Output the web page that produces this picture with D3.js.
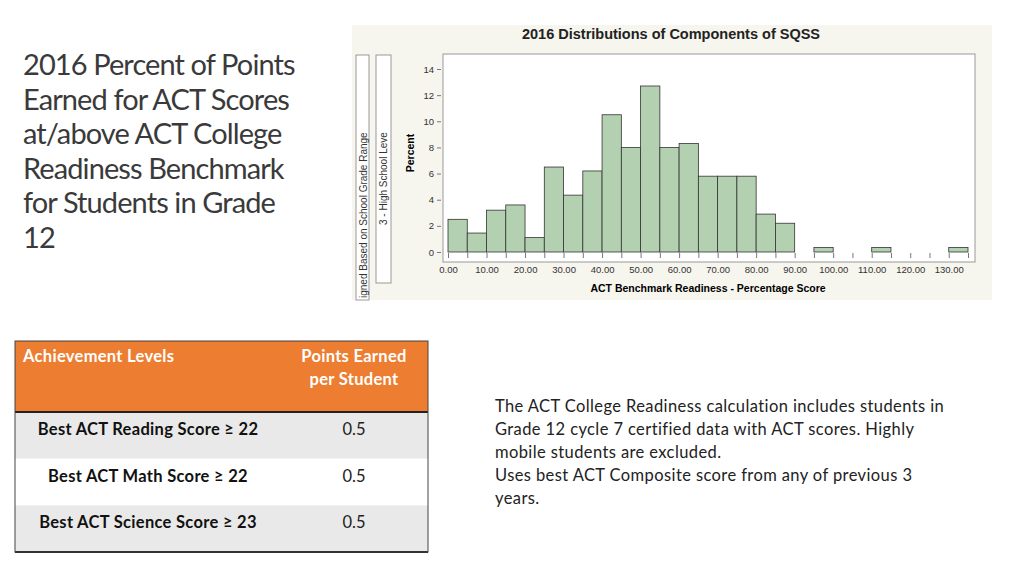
<!DOCTYPE html>
<html><head><meta charset="utf-8">
<script src="https://cdn.jsdelivr.net/npm/d3@7"></script>
<style>body{margin:0;background:#fff;font-family:Lato,"Open Sans",sans-serif}</style>
</head><body><svg id="c" width="1024" height="576"></svg>
<script>
const binStarts=[0,5,10,15,20,25,30,35,40,45,50,55,60,65,70,75,80,85,90,95,100,105,110,115,120,125,130];
const percents=[2.5,1.45,3.2,3.6,1.1,6.5,4.35,6.2,10.5,8.0,12.7,8.0,8.3,5.8,5.8,5.8,2.9,2.2,0,0.35,0,0,0.35,0,0,0,0.35];
const xTicks=[0,10,20,30,40,50,60,70,80,90,100,110,120,130];
const yTicks=[0,2,4,6,8,10,12,14];
const titleLines=["2016 Percent of Points","Earned for ACT Scores","at/above ACT College","Readiness Benchmark","for Students in Grade","12"];
const levels=["Best ACT Reading Score \u2265 22","Best ACT Math Score \u2265 22","Best ACT Science Score \u2265 23"];
const points=["0.5","0.5","0.5"];
const noteLines=["The ACT College Readiness calculation includes students in","Grade 12 cycle 7 certified data with ACT scores. Highly","mobile students are excluded.","Uses best ACT Composite score from any of previous 3","years."];

const svg=d3.select("#c");
titleLines.forEach((t,i)=>svg.append("text").attr("x",23).attr("y",75+i*34.5).attr("font-size",29)
 .attr("fill","#3a3a3a").attr("font-family","Lato, sans-serif").attr("letter-spacing",-0.9).text(t));
svg.append("rect").attr("x",352).attr("y",25).attr("width",640).attr("height",275).attr("fill","#f6f5ee");
svg.append("text").attr("x",671).attr("y",39).attr("text-anchor","middle").attr("font-size",14.5).attr("font-weight","bold")
 .attr("font-family","Liberation Sans, Arial").attr("fill","#222").text("2016 Distributions of Components of SQSS");
svg.append("rect").attr("x",356).attr("y",55).attr("width",13).attr("height",245).attr("fill","#fff").attr("stroke","#999");
svg.append("rect").attr("x",376).attr("y",55).attr("width",15).attr("height",228).attr("fill","#fff").attr("stroke","#999");
svg.append("text").attr("transform","translate(367,298) rotate(-90)").attr("font-size",10).attr("fill","#333").attr("font-family","Liberation Sans").text("igned Based on School Grade Range");
svg.append("text").attr("transform","translate(387,225) rotate(-90)").attr("font-size",10).attr("fill","#333").attr("font-family","Liberation Sans").text("3 - High School Leve");
svg.append("rect").attr("x",443).attr("y",54).attr("width",532).attr("height",208).attr("fill","#fff").attr("stroke","#999");
const x=d3.scaleLinear().domain([0,135]).range([448,968]);
const y=d3.scaleLinear().domain([0,14]).range([252,69]);
svg.append("text").attr("transform","translate(414,153) rotate(-90)").attr("text-anchor","middle").attr("font-size",10.5).attr("font-weight","bold").attr("font-family","Liberation Sans").text("Percent");
const ya=svg.append("g").attr("transform","translate(441,0)").call(d3.axisLeft(y).tickValues(yTicks).tickSize(4));
ya.select(".domain").remove();
ya.selectAll("text").attr("font-size",9.5).attr("fill","#333").attr("font-family","Liberation Sans Narrow, Liberation Sans");
ya.selectAll("line").attr("stroke","#777");
svg.selectAll("rect.bar").data(binStarts).join("rect").attr("class","bar")
 .attr("x",d=>x(d)).attr("width",d=>x(d+5)-x(d)).attr("y",(d,i)=>y(percents[i])).attr("height",(d,i)=>y(0)-y(percents[i]))
 .attr("fill","#b3d1b1").attr("stroke","#333").attr("stroke-width",0.8);
const xa=svg.append("g").attr("transform","translate(0,253)").call(d3.axisBottom(x).tickValues(d3.range(0,140,5)).tickSize(5).tickFormat(d=>xTicks.includes(d)?d.toFixed(2):""));
xa.select(".domain").remove();
xa.selectAll("text").attr("font-size",9.5).attr("fill","#333").attr("dy","1.25em").attr("font-family","Liberation Sans Narrow, Liberation Sans");
xa.selectAll("line").attr("stroke","#777");
svg.append("text").attr("x",708).attr("y",292).attr("text-anchor","middle").attr("font-size",10.5).attr("font-weight","bold").attr("font-family","Liberation Sans").text("ACT Benchmark Readiness - Percentage Score");
svg.append("rect").attr("x",15).attr("y",341).attr("width",413).attr("height",71).attr("fill","#ed7d31");
const tf={size:16.5,ls:0.3};
svg.append("text").attr("x",23).attr("y",362).attr("font-size",tf.size).attr("letter-spacing",tf.ls).attr("font-weight","bold").attr("fill","#fff").text("Achievement Levels");
svg.append("text").attr("x",354).attr("y",362).attr("text-anchor","middle").attr("font-size",tf.size).attr("letter-spacing",tf.ls).attr("font-weight","bold").attr("fill","#fff").text("Points Earned");
svg.append("text").attr("x",354).attr("y",385).attr("text-anchor","middle").attr("font-size",tf.size).attr("letter-spacing",tf.ls).attr("font-weight","bold").attr("fill","#fff").text("per Student");
levels.forEach((l,i)=>{
 const ry=412+i*46.7;
 svg.append("rect").attr("x",15).attr("y",ry).attr("width",413).attr("height",46.7).attr("fill",i%2==0?"#e9e9e9":"#fff");
 svg.append("text").attr("x",148).attr("y",ry+23).attr("text-anchor","middle").attr("font-size",tf.size).attr("letter-spacing",tf.ls).attr("font-weight","bold").attr("fill","#111").text(l);
 svg.append("text").attr("x",354).attr("y",ry+23).attr("text-anchor","middle").attr("font-size",tf.size).attr("fill","#222").text(points[i]);
});
svg.append("line").attr("x1",15).attr("x2",428).attr("y1",412).attr("y2",412).attr("stroke","#222").attr("stroke-width",2);
svg.append("line").attr("x1",15).attr("x2",428).attr("y1",552).attr("y2",552).attr("stroke","#222").attr("stroke-width",2);
svg.append("rect").attr("x",15).attr("y",341).attr("width",413).attr("height",211).attr("fill","none").attr("stroke","#444").attr("stroke-width",1);
noteLines.forEach((t,i)=>svg.append("text").attr("x",495).attr("y",412+i*23).attr("font-size",16.5).attr("letter-spacing",0.4).attr("fill","#222").text(t));
</script></body></html>
